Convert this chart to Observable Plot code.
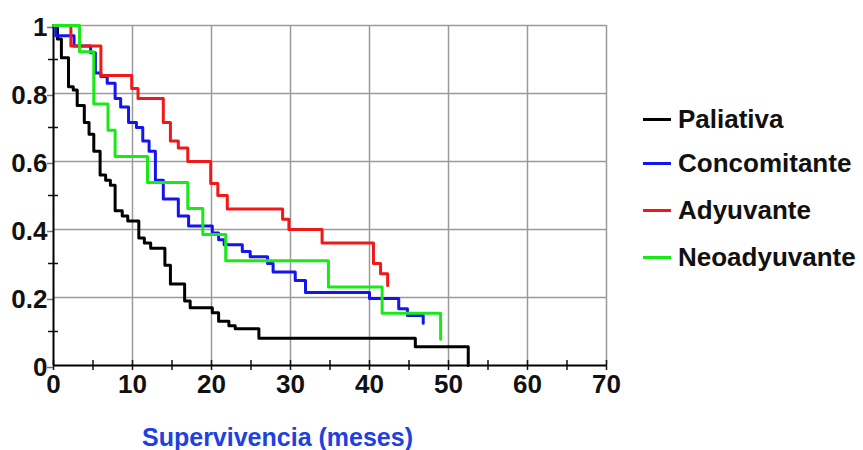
<!DOCTYPE html>
<html>
<head>
<meta charset="utf-8">
<script src="https://cdn.jsdelivr.net/npm/d3@7"></script>
<script src="https://cdn.jsdelivr.net/npm/@observablehq/plot@0.6"></script>
<style>
  html, body { margin: 0; padding: 0; background: #fff; }
  #wrap { position: relative; width: 863px; height: 450px; overflow: hidden; }
  #legend { position: absolute; left: 0; top: 0; font-family: "Liberation Sans", Arial, sans-serif; font-weight: bold; font-size: 26px; color: #111; }
  .item { position: absolute; left: 643px; height: 30px; line-height: 30px; white-space: nowrap; }
  .sw { display: inline-block; width: 28px; height: 3px; vertical-align: middle; margin-right: 7px; position: relative; top: -2px; }
</style>
</head>
<body>
<div id="wrap"><div id="legend"></div></div>
<script>
// Series
const series = ["Paliativa", "Concomitante", "Adyuvante", "Neoadyuvante"];
const colors = ["#000000", "#1414ee", "#f01818", "#18ea18"];

// Paliativa
const palT = [0, 0.5, 1.0, 1.9, 2.5, 3.0, 3.9, 4.5, 5.1, 5.9, 6.6, 7.2, 7.8, 8.7, 9.4, 10.8, 11.5, 12.3, 14.1, 14.8, 16.6, 17.3, 20.1, 20.9, 22.2, 23.0, 26.0, 45.8, 52.5];
const palS = [1, 0.96, 0.905, 0.82, 0.81, 0.765, 0.715, 0.68, 0.63, 0.56, 0.545, 0.53, 0.455, 0.44, 0.425, 0.375, 0.36, 0.345, 0.295, 0.24, 0.19, 0.17, 0.155, 0.13, 0.117, 0.108, 0.08, 0.055, 0];

// Concomitante
const conT = [0, 0.3, 2.6, 4.7, 5.3, 6.0, 6.8, 7.8, 8.5, 9.5, 10.5, 11.3, 12.1, 12.9, 13.9, 15.8, 17.1, 20.1, 20.9, 21.6, 23.9, 24.9, 27.1, 27.8, 30.6, 31.9, 40.0, 43.7, 44.8, 46.8];
const conS = [1, 0.97, 0.94, 0.92, 0.86, 0.85, 0.83, 0.785, 0.76, 0.715, 0.70, 0.66, 0.63, 0.545, 0.49, 0.44, 0.41, 0.39, 0.37, 0.355, 0.335, 0.32, 0.30, 0.275, 0.25, 0.215, 0.197, 0.167, 0.147, 0.124];

// Adyuvante
const adyT = [0, 2.2, 6.0, 9.9, 10.7, 13.9, 14.8, 15.8, 17.0, 19.9, 20.8, 22.0, 29.0, 29.8, 34.0, 40.5, 41.4, 42.3];
const adyS = [1, 0.94, 0.853, 0.815, 0.785, 0.715, 0.66, 0.64, 0.60, 0.535, 0.50, 0.46, 0.43, 0.40, 0.36, 0.30, 0.27, 0.235];

// Neoadyuvante
const neoT = [0, 3.3, 5.1, 6.9, 7.8, 11.9, 17.0, 18.9, 21.8, 34.8, 41.6, 49.0];
const neoS = [1, 0.923, 0.769, 0.692, 0.615, 0.538, 0.462, 0.385, 0.308, 0.231, 0.154, 0.077];

// Ticks
const xMajor = [0, 10, 20, 30, 40, 50, 60, 70];
const xMinor = [0, 5, 10, 15, 20, 25, 30, 35, 40, 45, 50, 55, 60, 65, 70];
const yMajor = [0, 0.2, 0.4, 0.6, 0.8, 1];
const yMinor = [0.1, 0.3, 0.5, 0.7, 0.9];
const xLabel = "Supervivencia (meses)";

const sets = [[palT, palS], [conT, conS], [adyT, adyS], [neoT, neoS]];
const rows = [];
sets.forEach(([T, S], i) => T.forEach((t, j) => rows.push({group: series[i], t, s: S[j]})));

const font = "'Liberation Sans', Arial, sans-serif";

const chart = Plot.plot({
  width: 863,
  height: 450,
  marginLeft: 53,
  marginRight: 257,
  marginTop: 25,
  marginBottom: 85,
  x: {domain: [0, 70]},
  y: {domain: [0, 1]},
  color: {domain: series, range: colors},
  style: {fontFamily: font, fontWeight: "bold", fontSize: "26px", color: "#111", background: "#fff", overflow: "visible"},
  marks: [
    Plot.gridX(xMajor.filter(d => d > 0), {stroke: "#9a9a9a", strokeOpacity: 1, strokeWidth: 1.5}),
    Plot.gridY(yMajor.filter(d => d > 0), {stroke: "#9a9a9a", strokeOpacity: 1, strokeWidth: 1.5}),
    Plot.axisY(yMinor, {tickSize: 10, dx: 5, tickFormat: () => "", label: null, strokeWidth: 1.5}),
    Plot.axisY(yMajor, {tickSize: 6, stroke: "#777", strokeWidth: 1.5, tickPadding: 0, dy: 2, tickFormat: d => String(+d.toFixed(1)), label: null, fontSize: 26, fontWeight: "bold", fill: "#111"}),
    Plot.axisX(xMinor, {tickSize: 10, dy: -5, tickFormat: () => "", label: null, strokeWidth: 1.5}),
    Plot.axisX(xMajor, {tickSize: 0, tickPadding: 9, label: null, fontSize: 26, fontWeight: "bold", fill: "#111"}),
    Plot.ruleX([0], {stroke: "#000", strokeWidth: 2}),
    Plot.ruleY([0], {stroke: "#000", strokeWidth: 2}),
    Plot.line(rows, {x: "t", y: "s", z: "group", stroke: "group", curve: "step-after", strokeWidth: 3}),
    Plot.text([xLabel], {frameAnchor: "bottom-left", dx: 224, dy: 72, lineAnchor: "middle", textAnchor: "middle", fill: "#2040e0", fontSize: 25, fontWeight: "bold"})
  ]
});

const wrap = document.getElementById("wrap");
wrap.insertBefore(chart, wrap.firstChild);

// Legend
const legend = document.getElementById("legend");
const centers = [119, 163, 210, 257];
series.forEach((name, i) => {
  const it = document.createElement("div");
  it.className = "item";
  it.style.top = (centers[i] - 15) + "px";
  const sw = document.createElement("span");
  sw.className = "sw";
  sw.style.background = colors[i];
  it.appendChild(sw);
  it.appendChild(document.createTextNode(name));
  legend.appendChild(it);
});
</script>
</body>
</html>
